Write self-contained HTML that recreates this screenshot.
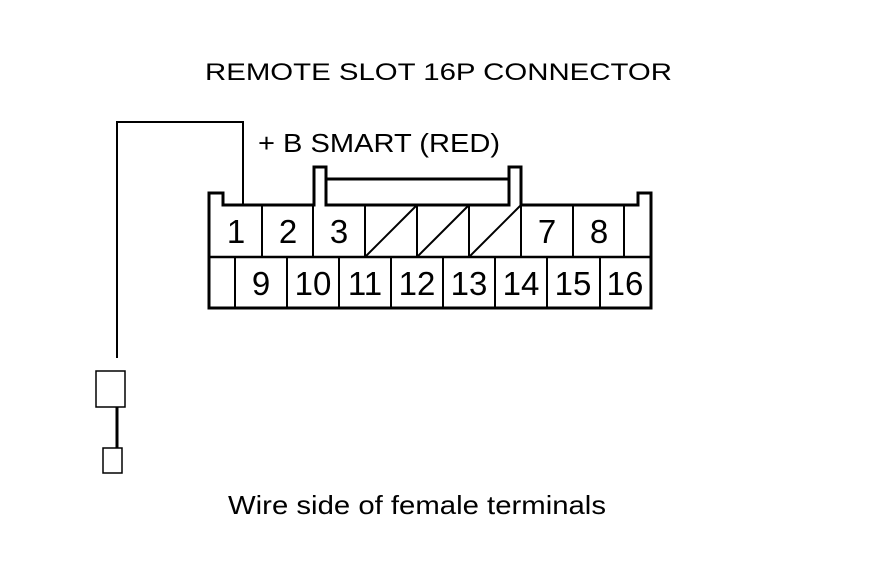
<!DOCTYPE html>
<html><head><style>body{margin:0;background:#fff}</style></head><body>
<svg width="880" height="578" viewBox="0 0 880 578" xmlns="http://www.w3.org/2000/svg" font-family="Liberation Sans, sans-serif">
<rect width="880" height="578" fill="#fff"/>
<g stroke="#000" stroke-width="2" fill="none">
<polyline points="117,358 117,122 243,122 243,204"/>
<rect x="96" y="371" width="29" height="36" stroke-width="1.5"/>
<line x1="117" y1="407" x2="117" y2="448" stroke-width="3"/>
<rect x="103" y="448" width="19" height="25" stroke-width="1.5"/>
<path d="M209,308 L209,193 L223,193 L223,205 L314,205 L314,167 L326,167 L326,205 L509,205 L509,167 L521,167 L521,205 L638,205 L638,193 L651,193 L651,308 Z" stroke-width="3"/>
<line x1="326" y1="179" x2="509" y2="179" stroke-width="3"/>
<line x1="209" y1="257" x2="651" y2="257" stroke-width="2.5"/>
<g stroke-width="2">
<line x1="262" y1="205" x2="262" y2="257"/><line x1="313" y1="205" x2="313" y2="257"/>
<line x1="365" y1="205" x2="365" y2="257"/><line x1="417" y1="205" x2="417" y2="257"/>
<line x1="469" y1="205" x2="469" y2="257"/><line x1="521" y1="205" x2="521" y2="257"/>
<line x1="573" y1="205" x2="573" y2="257"/><line x1="624" y1="205" x2="624" y2="257"/>
<line x1="365" y1="257" x2="417" y2="205"/><line x1="417" y1="257" x2="469" y2="205"/><line x1="469" y1="257" x2="521" y2="205"/>
<line x1="235" y1="257" x2="235" y2="308"/><line x1="287" y1="257" x2="287" y2="308"/>
<line x1="339" y1="257" x2="339" y2="308"/><line x1="391" y1="257" x2="391" y2="308"/>
<line x1="443" y1="257" x2="443" y2="308"/><line x1="495" y1="257" x2="495" y2="308"/>
<line x1="547" y1="257" x2="547" y2="308"/><line x1="600" y1="257" x2="600" y2="308"/>
</g>
</g>
<g font-size="24" fill="#000">
<text x="205" y="80" textLength="467" lengthAdjust="spacingAndGlyphs">REMOTE SLOT 16P CONNECTOR</text>
<text x="258" y="152" font-size="26" textLength="242" lengthAdjust="spacingAndGlyphs">+ B SMART (RED)</text>
<text x="228" y="514" font-size="26" textLength="378" lengthAdjust="spacingAndGlyphs">Wire side of female terminals</text>
</g>
<g font-size="33" fill="#000" text-anchor="middle">
<text x="236" y="243">1</text><text x="288" y="243">2</text><text x="339" y="243">3</text>
<text x="547" y="243">7</text><text x="599" y="243">8</text>
<text x="261" y="295">9</text><text x="313" y="295">10</text><text x="365" y="295">11</text>
<text x="417" y="295">12</text><text x="469" y="295">13</text><text x="521" y="295">14</text>
<text x="573" y="295">15</text><text x="625" y="295">16</text>
</g>
</svg>
</body></html>
